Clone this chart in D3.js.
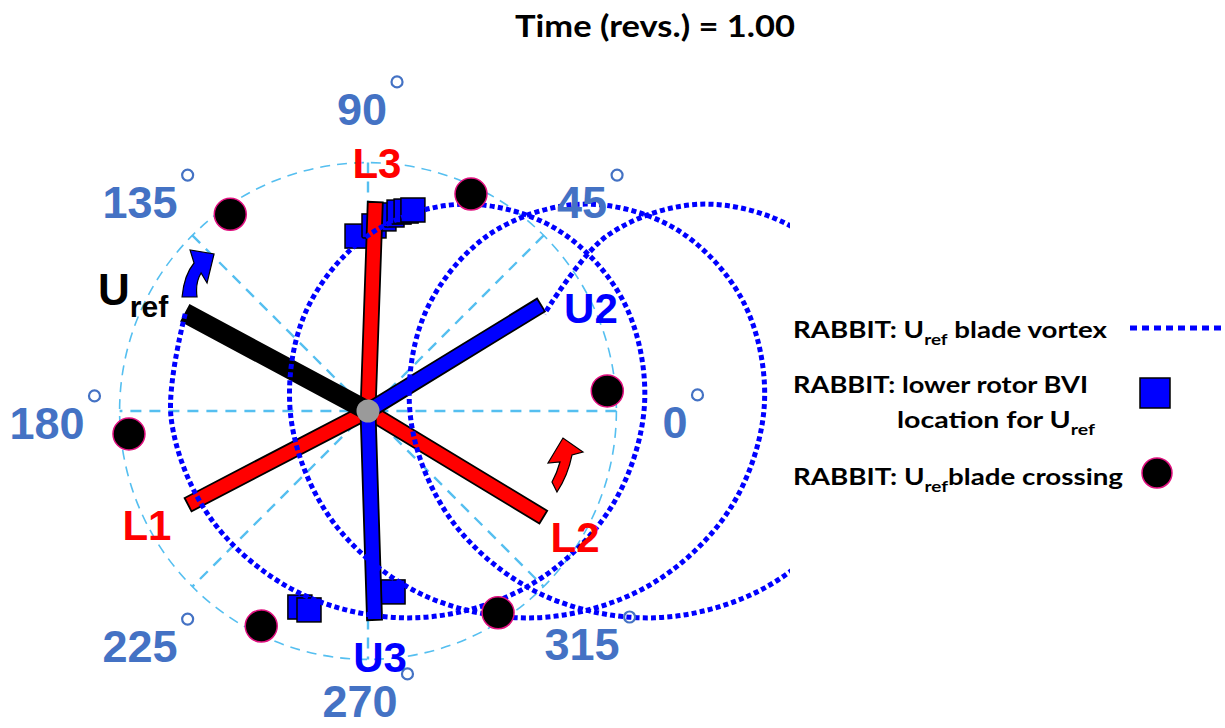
<!DOCTYPE html>
<html><head><meta charset="utf-8">
<script src="https://cdn.jsdelivr.net/npm/d3@7"></script>
<style>body{margin:0;background:#fff} svg{display:block}</style>
</head><body><svg id="c" width="1225" height="728"></svg>
<script>
// ---------------- data ----------------
const titleText = "Time (revs.) = 1.00";
const azimuthTicks = [0, 45, 90, 135, 180, 225, 270, 315];
const upperBlades = ["Uref", "U2", "U3"];
const upperBladeAzimuth = [151.8, 31.5, 271.8];
const upperBladeLength = [1.0, 0.98, 1.01];
const lowerBlades = ["L1", "L2", "L3"];
const lowerBladeAzimuth = [207.5, 328.8, 88.0];
const lowerBladeLength = [0.98, 0.99, 1.01];
// Uref tip-vortex trail (x/R, y/R), from the blade tip back three revolutions
const vortexU = [-0.883,-0.951,-0.752,-0.324,0.228,0.771,1.172,1.336,1.234,0.903,0.447,0.000,-0.305,-0.372,-0.173,0.254,0.806,1.349,1.751,1.915,1.812,1.481,1.025,0.579,0.274,0.206,0.405,0.832,1.385,1.928,2.329,2.493,2.390,2.060,1.604,1.157,0.852];
const vortexV = [0.469,-0.035,-0.530,-0.883,-0.999,-0.848,-0.469,0.035,0.530,0.883,0.999,0.848,0.469,-0.035,-0.530,-0.883,-0.999,-0.848,-0.469,0.035,0.530,0.883,0.999,0.848,0.469,-0.035,-0.530,-0.883,-0.999,-0.848,-0.469,0.035,0.530,0.883,0.999,0.848,0.469];
// lower rotor BVI locations (x/R, y/R)
const bviU = [-0.053, 0.029, 0.077, 0.116, 0.150, 0.184, 0.217, -0.329, -0.285, 0.121];
const bviV = [0.845, 0.894, 0.928, 0.947, 0.961, 0.966, 0.971, -0.947, -0.961, -0.874];
// blade crossing azimuths (deg) and radius (x/R)
const crossingAzimuth = [4.8, 64.6, 125.0, 185.5, 243.6, 302.8];
const crossingRadius = 1.16;
const referenceRadius = 1.2;
const legendLabels = ["RABBIT: U|ref| blade vortex", "RABBIT: lower rotor BVI", "location for U|ref|", "RABBIT: U|ref|blade crossing"];

// ---------------- layout ----------------
const svg = d3.select("#c");
const x = d3.scaleLinear().domain([0, 1]).range([368, 575]);
const y = d3.scaleLinear().domain([0, 1]).range([411, 204]);
const rad = d => d * Math.PI / 180;
const pol = (az, r) => [x(r * Math.cos(rad(az))), y(r * Math.sin(rad(az)))];
const LB = "#55bff0", AZC = "#4472c4", BLUE = "#0000ff", RED = "#ff0000";

svg.append("defs").append("clipPath").attr("id", "plotclip")
  .append("rect").attr("x", 0).attr("y", 60).attr("width", 790).attr("height", 668);

// title
svg.append("text").attr("x", 515).attr("y", 37)
  .attr("textLength", 280).attr("lengthAdjust", "spacingAndGlyphs")
  .style("font-family", "Lato, 'Open Sans', sans-serif").style("font-weight", 700)
  .style("font-size", "30px").attr("fill", "#000").text(titleText);

// reference dashed circle + azimuth lines
const g = svg.append("g");
g.append("circle").attr("cx", x(0)).attr("cy", y(0)).attr("r", x(referenceRadius) - x(0))
  .attr("fill", "none").attr("stroke", LB).attr("stroke-width", 1.6).attr("stroke-dasharray", "10,7");
[0, 45, 90, 135].forEach(az => {
  const a = pol(az, referenceRadius), b = pol(az + 180, referenceRadius);
  g.append("line").attr("x1", a[0]).attr("y1", a[1]).attr("x2", b[0]).attr("y2", b[1])
    .attr("stroke", LB).attr("stroke-width", 2.4).attr("stroke-dasharray", "11,8");
});

// BVI squares
const SQ = 24;
g.selectAll("rect.bvi").data(bviU.map((u, i) => [u, bviV[i]])).join("rect").attr("class", "bvi")
  .attr("x", d => x(d[0]) - SQ / 2).attr("y", d => y(d[1]) - SQ / 2).attr("width", SQ).attr("height", SQ)
  .attr("fill", BLUE).attr("stroke", "#000").attr("stroke-width", 1.5);

// blades
function bladePath(az, len, w) {
  const h = pol(az, -0.03), t = pol(az, len);
  const dx = t[0] - h[0], dy = t[1] - h[1], L = Math.hypot(dx, dy);
  const px = -dy / L * w / 2, py = dx / L * w / 2;
  return d3.line()([[h[0] + px, h[1] + py], [t[0] + px, t[1] + py], [t[0] - px, t[1] - py], [h[0] - px, h[1] - py]]) + "Z";
}
lowerBlades.forEach((n, i) => {
  g.append("path").attr("d", bladePath(lowerBladeAzimuth[i], lowerBladeLength[i], 15))
    .attr("fill", RED).attr("stroke", "#000").attr("stroke-width", 1.8);
});
upperBlades.forEach((n, i) => {
  g.append("path").attr("d", bladePath(upperBladeAzimuth[i], upperBladeLength[i], i === 0 ? 18 : 15))
    .attr("fill", i === 0 ? "#000" : BLUE).attr("stroke", "#000").attr("stroke-width", 1.8);
});

// vortex trail
const vline = d3.line().x(d => x(d[0])).y(d => y(d[1])).curve(d3.curveCatmullRom.alpha(0.5));
g.append("path").attr("clip-path", "url(#plotclip)")
  .attr("d", vline(vortexU.map((u, i) => [u, vortexV[i]])))
  .attr("fill", "none").attr("stroke", BLUE).attr("stroke-width", 5).attr("stroke-dasharray", "5,3.2");

// blade crossings
g.selectAll("circle.cross").data(crossingAzimuth).join("circle").attr("class", "cross")
  .attr("cx", d => pol(d, crossingRadius)[0]).attr("cy", d => pol(d, crossingRadius)[1]).attr("r", 16)
  .attr("fill", "#000").attr("stroke", "#e0107f").attr("stroke-width", 1.5);

// hub
g.append("circle").attr("cx", x(0)).attr("cy", y(0)).attr("r", 11.5).attr("fill", "#9a9a9a");

// rotation arrows (annotation shapes placed at data anchors)
const blueArrowAt = [-0.821, 0.657], redArrowAt = [0.942, -0.261];
g.append("path").attr("transform", `translate(${x(blueArrowAt[0])},${y(blueArrowAt[1])})`)
  .attr("d", "M -16 22 Q -14 0 -4 -12 L -8 -25 L 16 -21 L 9 8 L 3 -2 Q -3 8 -1 22 Z")
  .attr("fill", BLUE).attr("stroke", "#000").attr("stroke-width", 1.2);
g.append("path").attr("transform", `translate(${x(redArrowAt[0])},${y(redArrowAt[1])})`)
  .attr("d", "M -11 17 Q -6 8 -3 -3 L -15 -2 L 0 -27 L 20 -13 L 9 -10 Q 5 10 -6 27 Z")
  .attr("fill", RED).attr("stroke", "#000").attr("stroke-width", 1.2);

// azimuth labels
const azLabelPos = {0: [1.483, -0.130], 45: [1.034, 0.932], 90: [-0.029, 1.382], 135: [-1.101, 0.932],
  180: [-1.551, -0.135], 225: [-1.101, -1.213], 270: [-0.039, -1.478], 315: [1.034, -1.203]};
azimuthTicks.forEach(t => {
  const p = azLabelPos[t];
  const tx = g.append("text").attr("x", x(p[0])).attr("y", y(p[1])).attr("text-anchor", "middle")
    .style("font-family", "'Liberation Sans', Arial, sans-serif").style("font-weight", 700)
    .style("font-size", "45px").attr("fill", AZC).text(String(t));
  const bb = tx.node().getBBox();
  g.append("circle").attr("cx", bb.x + bb.width + 10).attr("cy", y(p[1]) - 43).attr("r", 5.5)
    .attr("fill", "none").attr("stroke", AZC).attr("stroke-width", 2.2);
});

// blade labels
const bladeLabelPos = {U2: [1.077, 0.425], U3: [0.058, -1.261], L1: [-1.068, -0.623], L2: [1.0, -0.681], L3: [0.043, 1.126]};
const bladeFont = sel => sel.style("font-family", "'Liberation Sans', Arial, sans-serif").style("font-weight", 700);
["U2", "U3", "L1", "L2", "L3"].forEach(n => {
  const p = bladeLabelPos[n];
  bladeFont(g.append("text")).attr("x", x(p[0])).attr("y", y(p[1])).attr("text-anchor", "middle")
    .style("font-size", "42px").attr("fill", n[0] === "U" ? BLUE : RED).text(n);
});
const urefPos = [-1.304, 0.512];
const ut = bladeFont(g.append("text")).attr("x", x(urefPos[0])).attr("y", y(urefPos[1])).attr("fill", "#000");
ut.append("tspan").style("font-size", "44px").text("U");
ut.append("tspan").style("font-size", "30px").attr("dy", 12).text("ref");

// legend
const lg = svg.append("g").style("font-family", "Lato, 'Open Sans', sans-serif").style("font-weight", 700).attr("fill", "#000");
const legendRows = [[793, 338, 314], [793, 393, 295], [897, 428, 198], [793, 485, 330]];
legendLabels.forEach((s, i) => {
  const [lx, ly, lw] = legendRows[i];
  const t = lg.append("text").attr("x", lx).attr("y", ly).style("font-size", "22px")
    .attr("textLength", lw).attr("lengthAdjust", "spacingAndGlyphs");
  const parts = s.split("|");
  parts.forEach((p, k) => {
    if (!p) return;
    const sp = t.append("tspan").text(p);
    if (k % 2 === 1) sp.style("font-size", "15px").attr("dy", 7);
    else if (k > 0) sp.attr("dy", -7);
  });
});
lg.append("line").attr("x1", 1130).attr("y1", 328).attr("x2", 1225).attr("y2", 328)
  .attr("stroke", BLUE).attr("stroke-width", 5).attr("stroke-dasharray", "7,5");
lg.append("rect").attr("x", 1140).attr("y", 378).attr("width", 30).attr("height", 30)
  .attr("fill", BLUE).attr("stroke", "#000").attr("stroke-width", 1.5);
lg.append("circle").attr("cx", 1157).attr("cy", 473).attr("r", 15)
  .attr("fill", "#000").attr("stroke", "#e0107f").attr("stroke-width", 1.5);
</script></body></html>
